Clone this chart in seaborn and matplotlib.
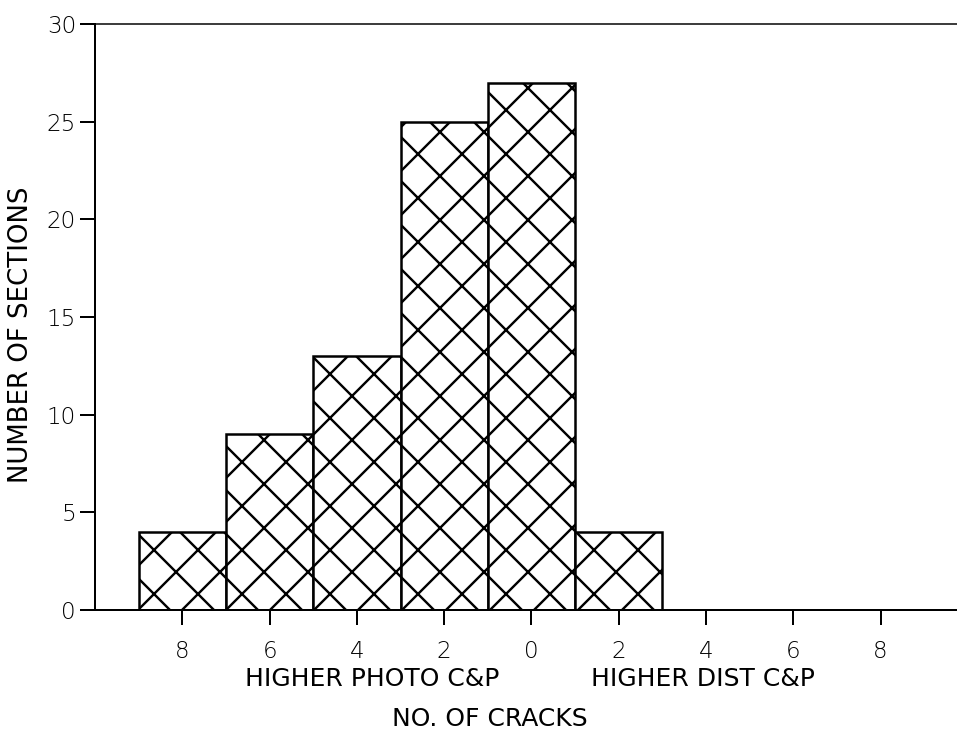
import matplotlib
matplotlib.use("Agg")
import matplotlib.pyplot as plt
import seaborn as sns
import pandas as pd

# ---- data ----
crack_diff = [-8, -6, -4, -2, 0, 2]          # negative = higher photo C&P
num_sections = [4, 9, 13, 25, 27, 4]
x_tick_pos = [-8, -6, -4, -2, 0, 2, 4, 6, 8]
x_tick_labels = ["8", "6", "4", "2", "0", "2", "4", "6", "8"]
y_ticks = [0, 5, 10, 15, 20, 25, 30]

DPI = 132
W, H = 957, 731
def pt(px):
    return px * 72.0 / DPI

sns.set_theme(style="white")
plt.rcParams["font.family"] = ["DejaVu Sans"]
plt.rcParams["text.color"] = "black"
plt.rcParams["axes.labelcolor"] = "black"
plt.rcParams["xtick.color"] = "black"
plt.rcParams["ytick.color"] = "black"
plt.rcParams["hatch.linewidth"] = pt(2.4)
plt.rcParams["hatch.color"] = "black"

fig = plt.figure(figsize=(W / DPI, H / DPI), dpi=DPI)
ax = fig.add_axes([95 / W, 1 - 610 / H, 1 - 95 / W, (610 - 24) / H])

df = pd.DataFrame({"diff": crack_diff, "n": num_sections})
sns.barplot(data=df, x="diff", y="n", native_scale=True, width=1.0,
            color="white", edgecolor="black", linewidth=pt(2.5),
            errorbar=None, ax=ax)
for p in ax.patches:
    p.set_hatch("x")
    p.set_facecolor("white")
    p.set_edgecolor("black")

ax.set_xlim(-10, 9.75)
ax.set_ylim(0, 30)
ax.set_xticks(x_tick_pos)
ax.set_xticklabels(x_tick_labels)
ax.set_yticks(y_ticks)
ax.set_xlabel("")
ax.set_ylabel("")

for s in ["left", "bottom", "top"]:
    ax.spines[s].set_visible(True)
    ax.spines[s].set_color("black")
    ax.spines[s].set_linewidth(pt(2))
ax.spines["top"].set_linewidth(pt(1.5))
ax.spines["right"].set_visible(False)

ax.tick_params(axis="x", direction="out", length=pt(15), width=pt(2),
               pad=pt(15), labelsize=pt(23), bottom=True,
               color="black", labelcolor="black")
ax.tick_params(axis="y", direction="out", length=pt(15), width=pt(2),
               pad=pt(4), labelsize=pt(23), left=True,
               color="black", labelcolor="black")
for lab in ax.get_xticklabels() + ax.get_yticklabels():
    lab.set_fontweight("light")
ax.grid(False)

lab_fs = pt(25)
fig.text(372 / W, 1 - 679 / H, "HIGHER PHOTO C&P", ha="center", va="center",
         fontsize=lab_fs, color="black", fontweight="medium")
fig.text(703 / W, 1 - 679 / H, "HIGHER DIST C&P", ha="center", va="center",
         fontsize=lab_fs, color="black", fontweight="medium")
fig.text(490 / W, 1 - 719 / H, "NO. OF CRACKS", ha="center", va="center",
         fontsize=lab_fs, color="black", fontweight="medium")
fig.text(21 / W, 1 - 335 / H, "NUMBER OF SECTIONS", ha="center", va="center",
         rotation=90, fontsize=pt(26), color="black", fontweight="medium")

fig.savefig("out.png", dpi=DPI)
